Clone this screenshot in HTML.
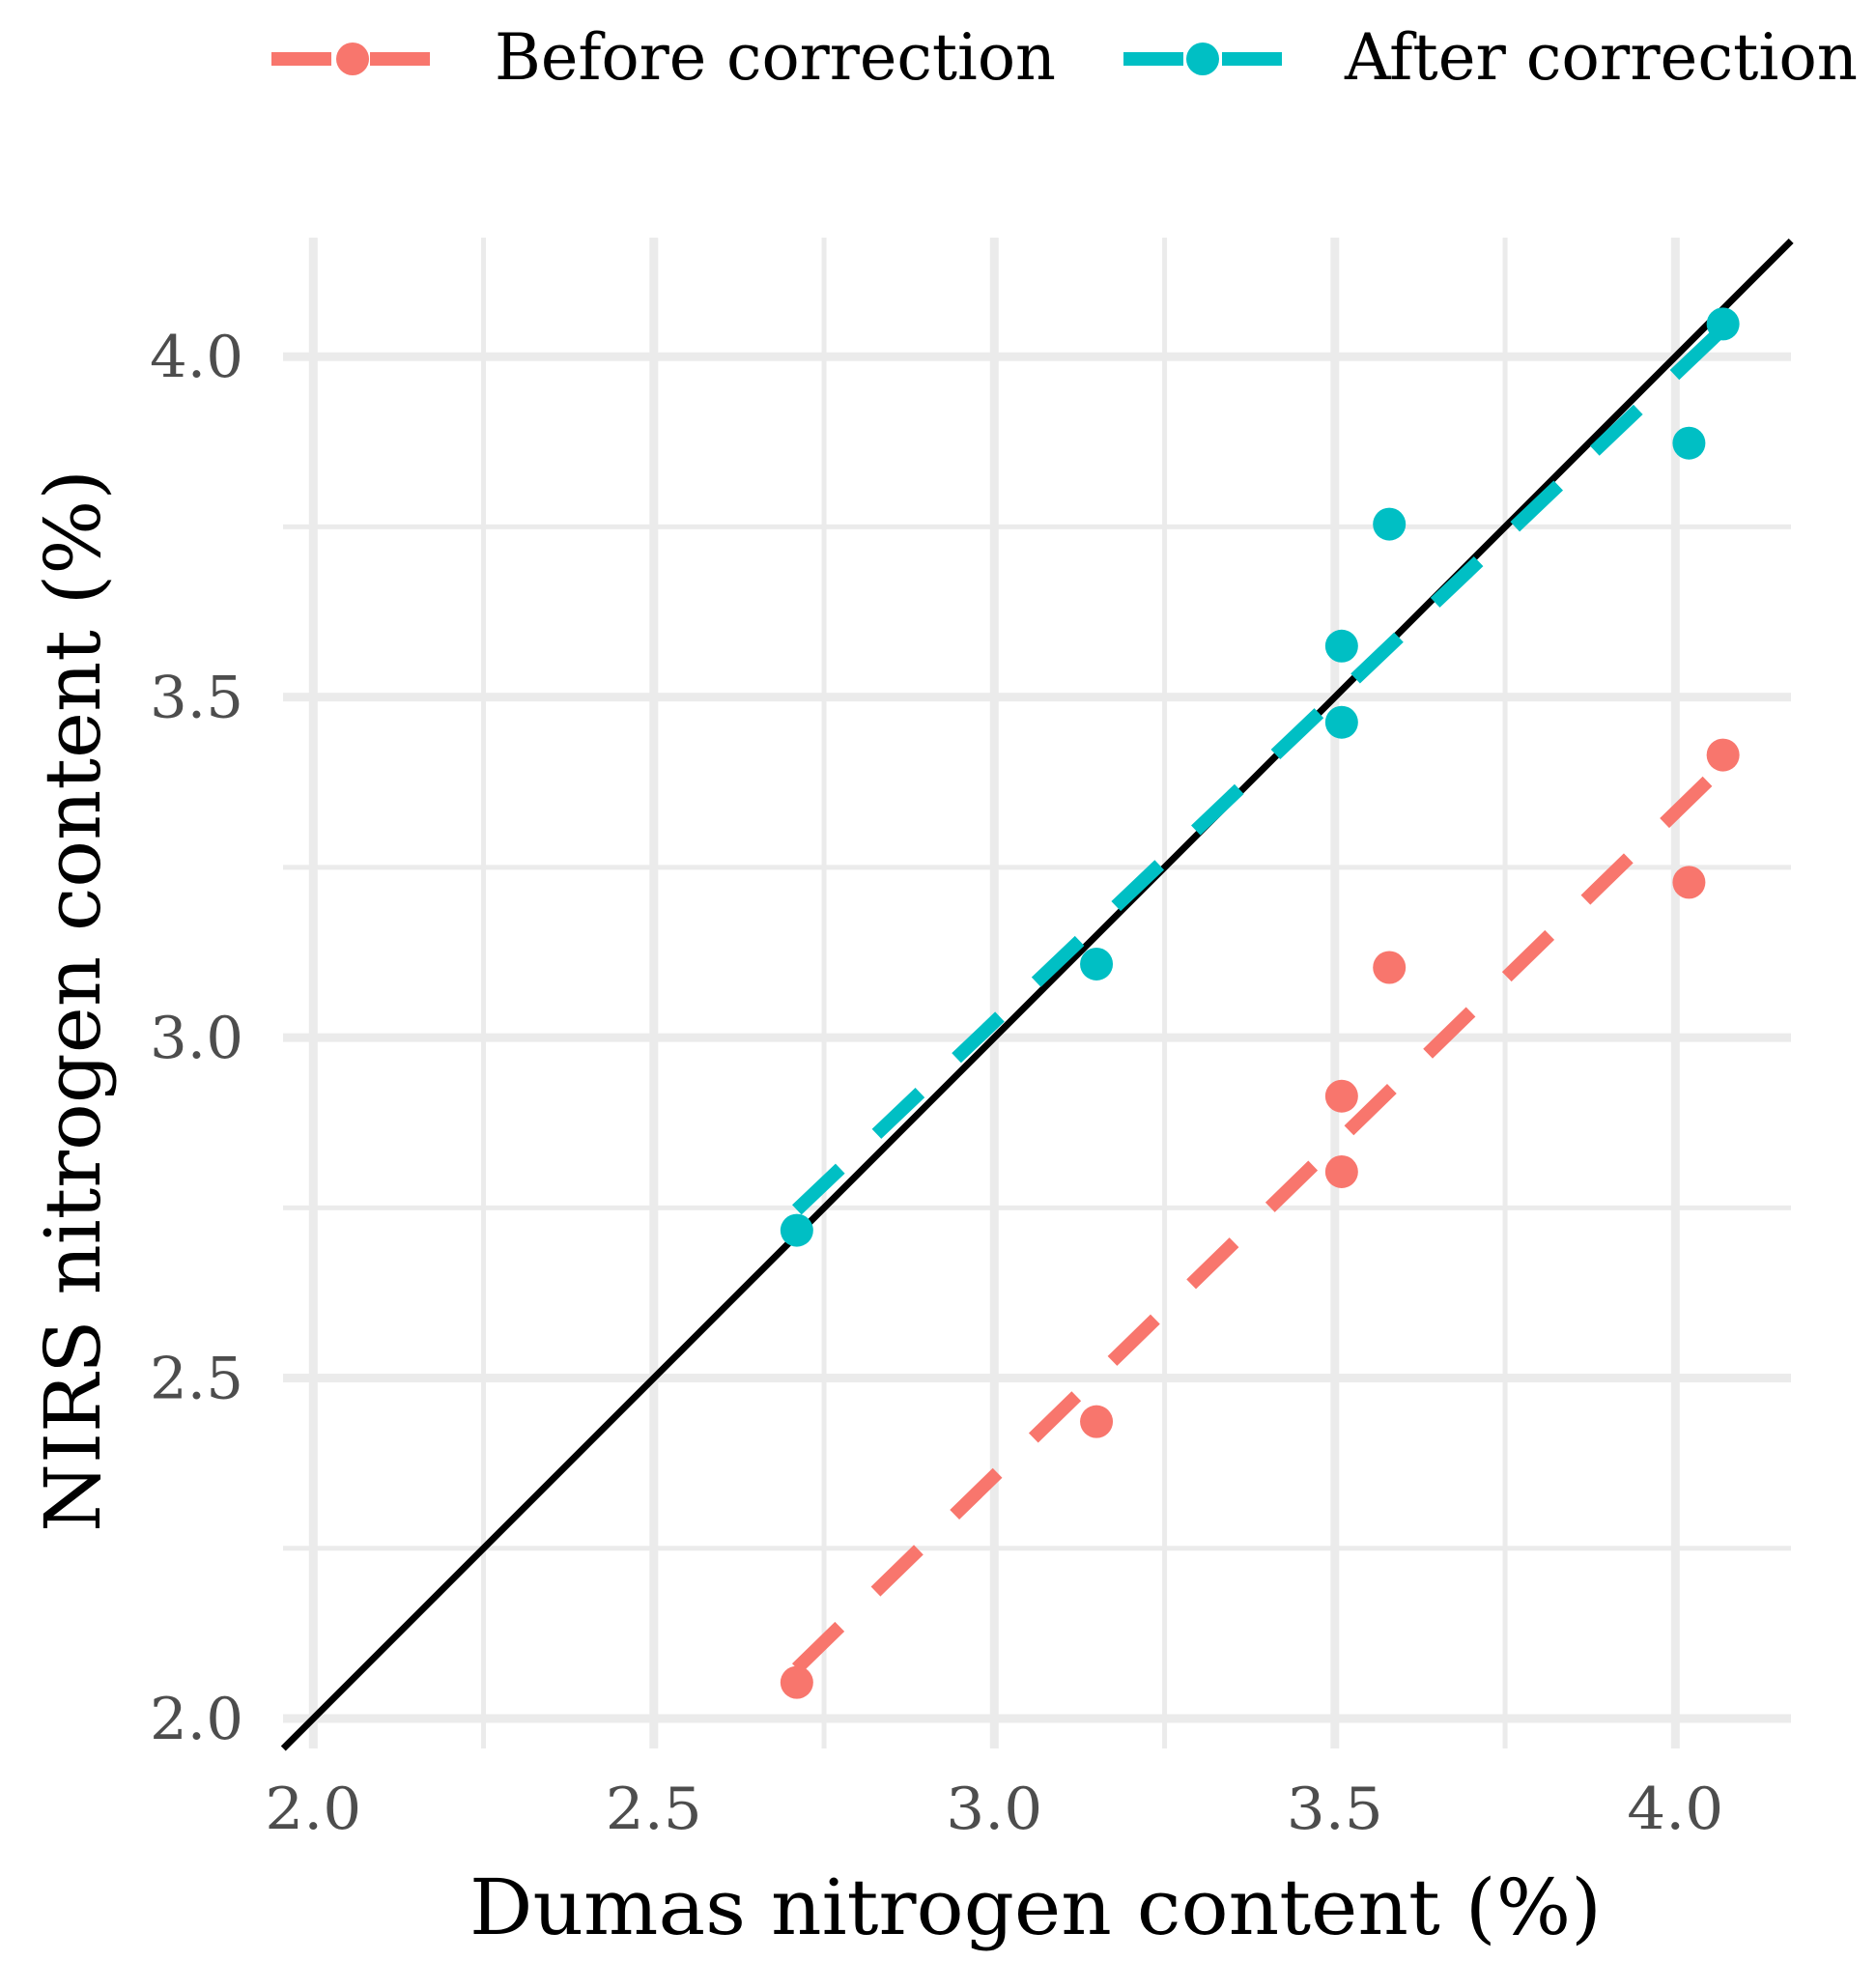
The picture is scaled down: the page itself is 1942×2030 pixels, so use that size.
<!DOCTYPE html>
<html><head><meta charset="utf-8"><style>
html,body{margin:0;padding:0;background:#fff;}
svg{display:block;font-family:"DejaVu Serif","Liberation Serif",serif;}
</style></head><body>
<svg id="chart" width="1942" height="2030" viewBox="0 0 1942 2030" xmlns="http://www.w3.org/2000/svg">
<g id="grid"></g>
<g id="marks"></g>
<g id="axes"></g>
<text x="1072" y="2002" font-size="80" text-anchor="middle" textLength="1172" lengthAdjust="spacingAndGlyphs" fill="#000">Dumas nitrogen content (%)</text>
<text transform="translate(103,1036) rotate(-90)" font-size="80" text-anchor="middle" textLength="1100" lengthAdjust="spacingAndGlyphs" fill="#000">NIRS nitrogen content (%)</text>
<g>
 <g>
  <line x1="281" y1="61" x2="447" y2="61" stroke="#F8766D" stroke-width="14" stroke-dasharray="62,40"/>
  <circle cx="365" cy="61" r="17" fill="#F8766D"/>
  <text x="512" y="82" font-size="66" textLength="581" lengthAdjust="spacingAndGlyphs" fill="#000">Before correction</text>
 </g>
 <g>
  <line x1="1163" y1="61" x2="1327" y2="61" stroke="#00BFC4" stroke-width="14" stroke-dasharray="62,40"/>
  <circle cx="1245" cy="61" r="17" fill="#00BFC4"/>
  <text x="1392" y="82" font-size="66" textLength="531" lengthAdjust="spacingAndGlyphs" fill="#000">After correction</text>
 </g>
</g>
</svg>
<script>
const xVals = [2.71, 3.15, 3.51, 3.51, 3.58, 4.02, 4.07];
const beforeVals = [2.053, 2.436, 2.914, 2.803, 3.103, 3.228, 3.415];
const afterVals = [2.717, 3.108, 3.575, 3.463, 3.754, 3.873, 4.048];
const majorTicks = [2.0, 2.5, 3.0, 3.5, 4.0];
const tickLabels = ["2.0", "2.5", "3.0", "3.5", "4.0"];
const minorTicks = [2.25, 2.75, 3.25, 3.75];

const NS = "http://www.w3.org/2000/svg";
const PL = 293, PR = 1854, PT = 246, PB = 1810;
const xMin = 1.956, xMax = 4.17, yMin = 1.956, yMax = 4.175;
const sx = v => 324.3 + (v - 2.0) * 705;
const sy = v => 1779 - (v - 2.0) * 704.9;
function mk(tag, attrs, parent) {
  const e = document.createElementNS(NS, tag);
  for (const k in attrs) e.setAttribute(k, attrs[k]);
  parent.appendChild(e);
  return e;
}
const grid = document.getElementById('grid');
const marks = document.getElementById('marks');
const axes = document.getElementById('axes');

minorTicks.forEach(t => {
  let l = mk('line', {x1: sx(t), x2: sx(t), y1: PT, y2: PB, stroke: '#ebebeb', 'stroke-width': 5}, grid);
  
  
  l = mk('line', {x1: PL, x2: PR, y1: sy(t), y2: sy(t), stroke: '#ebebeb', 'stroke-width': 5}, grid);
  
  
});
majorTicks.forEach((t, i) => {
  let l = mk('line', {x1: sx(t), x2: sx(t), y1: PT, y2: PB, stroke: '#ebebeb', 'stroke-width': 9}, grid);
  
  
  l = mk('line', {x1: PL, x2: PR, y1: sy(t), y2: sy(t), stroke: '#ebebeb', 'stroke-width': 9}, grid);
  
  
  let tx = mk('text', {x: sx(t), y: 1893, 'font-size': 60, fill: '#4d4d4d', 'text-anchor': 'middle', textLength: 100, lengthAdjust: 'spacingAndGlyphs'}, axes);
  tx.textContent = tickLabels[i];
  
  
  tx = mk('text', {x: 252, y: sy(t) + 21, 'font-size': 60, fill: '#4d4d4d', 'text-anchor': 'end', textLength: 97, lengthAdjust: 'spacingAndGlyphs'}, axes);
  tx.textContent = tickLabels[i];
  
  
});

const idl = mk('line', {x1: sx(xMin), y1: sy(xMin), x2: sx(4.17), y2: sy(4.17), stroke: '#000', 'stroke-width': 7}, marks);



function fit(xs, ys) {
  const n = xs.length;
  const mx = xs.reduce((a, b) => a + b) / n, my = ys.reduce((a, b) => a + b) / n;
  let sxy = 0, sxx = 0;
  for (let i = 0; i < n; i++) { sxy += (xs[i] - mx) * (ys[i] - my); sxx += (xs[i] - mx) ** 2; }
  const b = sxy / sxx;
  return [my - b * mx, b];
}
function series(ys, color, name) {
  const [a, b] = fit(xVals, ys);
  const x0 = Math.min(...xVals), x1 = Math.max(...xVals);
  const ln = mk('line', {x1: sx(x0), y1: sy(a + b * x0), x2: sx(x1), y2: sy(a + b * x1), stroke: color, 'stroke-width': 14, 'stroke-dasharray': '62,52'}, marks);
  
  
  ys.forEach((y, i) => {
    const c = mk('circle', {cx: sx(xVals[i]), cy: sy(y), r: 17, fill: color}, marks);
    
    
  });
}
series(beforeVals, '#F8766D', 'before');
series(afterVals, '#00BFC4', 'after');
</script>
</body></html>
